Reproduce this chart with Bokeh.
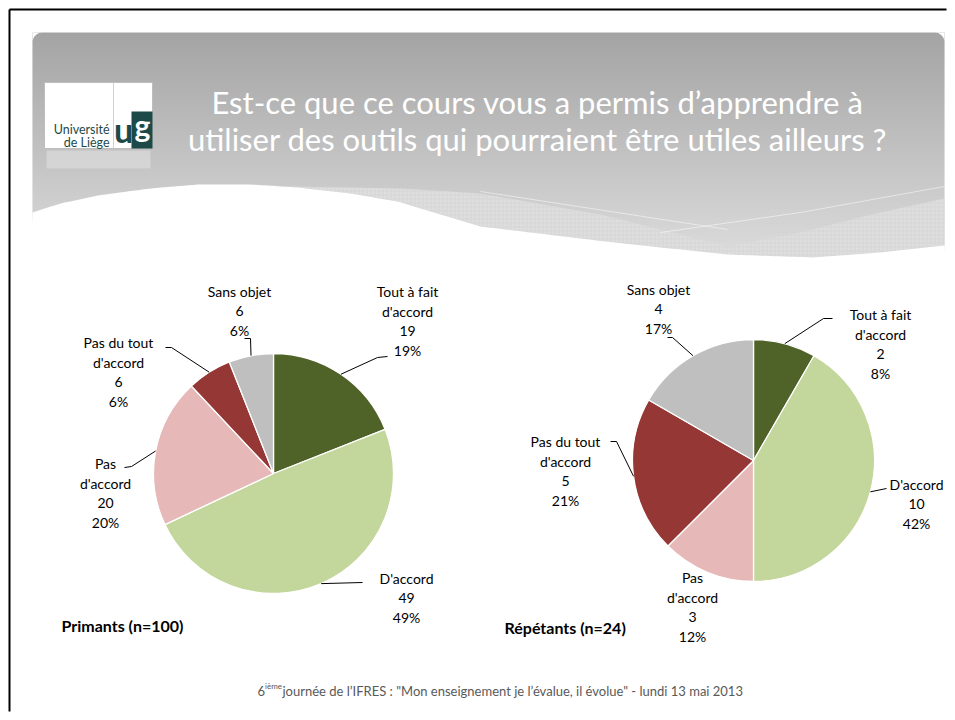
import numpy as np
from bokeh.plotting import figure
from bokeh.models import Range1d, ColumnDataSource
from bokeh.core.properties import value
from bokeh.embed import file_html
from bokeh.resources import INLINE

# ---------------- data ----------------
categories = ["Tout à fait d'accord", "D'accord", "Pas d'accord", "Pas du tout d'accord", "Sans objet"]
label_names = ["Tout à fait\nd'accord", "D'accord", "Pas\nd'accord", "Pas du tout\nd'accord", "Sans objet"]
primants_counts = [19, 49, 20, 6, 6]
primants_pcts = ["19%", "49%", "20%", "6%", "6%"]
repetants_counts = [2, 10, 3, 5, 4]
repetants_pcts = ["8%", "42%", "12%", "21%", "17%"]
slice_colors = ["#4F6228", "#C3D69B", "#E6B9B8", "#953735", "#BFBFBF"]

title_lines = ["Est-ce que ce cours vous a permis d\u2019apprendre à",
               "utiliser des outils qui pourraient être utiles ailleurs ?"]
primants_title = "Primants (n=100)"
repetants_title = "Répétants (n=24)"
footer_text = "journée de l\u2019IFRES : \"Mon enseignement je l\u2019évalue, il évolue\"  - lundi 13 mai 2013"

FONT = value("Lato")

# ---------------- canvas ----------------
W, H = 947, 712


def X(sx):
    return sx


def Y(sy):
    return H - sy


p = figure(width=W, height=H, x_range=Range1d(0, W), y_range=Range1d(0, H),
           output_backend="svg", toolbar_location=None,
           x_axis_type=None, y_axis_type=None, min_border=0,
           outline_line_color=None, background_fill_color="white",
           border_fill_color="white")
p.xgrid.visible = False
p.ygrid.visible = False

# ---------------- header (gradient band) ----------------
top_y, bot_y, step = 32, 262, 2
ys = np.arange(top_y, bot_y, step)
c0, c1 = np.array([164, 164, 164]), np.array([222, 222, 222])
cols = []
for yy in ys:
    t = (yy - top_y) / (bot_y - top_y)
    c = (c0 + (c1 - c0) * t).astype(int)
    cols.append("#%02x%02x%02x" % tuple(c))
p.quad(left=[X(32)] * len(ys), right=[X(944)] * len(ys),
       top=[Y(v) for v in ys], bottom=[Y(v + step + 0.6) for v in ys],
       fill_color=cols, line_color=None)


def smooth(pts, n=200):
    pts = np.array(pts, dtype=float)
    xs = np.linspace(pts[0, 0], pts[-1, 0], n)
    return xs, np.interp(xs, pts[:, 0], pts[:, 1])


white_curve = [(32, 212), (60, 203), (97, 195), (150, 188), (197, 184), (250, 184),
               (297, 187), (350, 193), (397, 201), (480, 226), (613, 242), (727, 254),
               (813, 257), (880, 252), (944, 245)]
gray_curve = [(32, 212), (60, 203), (97, 195), (150, 188), (197, 184), (250, 184),
              (290, 186), (400, 188), (480, 193), (600, 214), (727, 246), (800, 232),
              (880, 212), (944, 198)]
wx, wy = smooth(white_curve)
gx, gy = smooth(gray_curve)

# textured light band
band_x = list(gx) + list(wx[::-1])
band_y = list(gy) + list(wy[::-1])
p.patch([X(v) for v in band_x], [Y(v) for v in band_y], fill_color="#dedede",
        line_color=None, hatch_pattern="+", hatch_color="#d0d0d0", hatch_scale=4,
        hatch_weight=0.6)
# faint white streaks
p.line([X(v) for v in [480, 727]], [Y(v) for v in [191, 229]], line_color="white", line_alpha=0.5, line_width=1)
p.line([X(v) for v in [660, 800, 944]], [Y(v) for v in [232, 212, 186]], line_color="white", line_alpha=0.5, line_width=1)

# white wave
wave_x = list(wx) + [946, 30]
wave_y = list(wy) + [275, 275]
p.patch([X(v) for v in wave_x], [Y(v) for v in wave_y], fill_color="white", line_color=None)

# rounded top corners
rad = 10
for cx, a0, a1, corner in [(32 + rad, np.pi, 1.5 * np.pi, 32), (944 - rad, 1.5 * np.pi, 2 * np.pi, 944)]:
    th = np.linspace(a0, a1, 20)
    ax = cx + rad * np.cos(th)
    ay = (32 + rad) + rad * np.sin(th)
    px = [corner] + list(ax)
    py = [32] + list(ay)
    p.patch([X(v) for v in px], [Y(v) for v in py], fill_color="white", line_color=None)

# ---------------- logo ----------------
teal = "#1d4a48"
p.quad(left=[X(44)], right=[X(152)], top=[Y(82)], bottom=[Y(148)],
       fill_color="white", line_color="#bdbdbd", line_width=1)
p.line([X(113), X(113)], [Y(82), Y(148)], line_color="#d0d0d0", line_width=1)
p.quad(left=[X(131)], right=[X(152)], top=[Y(111)], bottom=[Y(148)],
       fill_color=teal, line_color=None)
p.text(x=[X(109), X(109)], y=[Y(129), Y(142)], text=["Université", "de Liège"],
       text_align="right", text_baseline="middle", text_font=FONT,
       text_font_size="12.5px", text_color=teal)
p.text(x=[X(123)], y=[Y(129)], text=["u"], text_align="center", text_baseline="middle",
       text_font=FONT, text_font_size="34px", text_font_style="bold", text_color=teal)
p.text(x=[X(142)], y=[Y(124)], text=["g"], text_align="center", text_baseline="middle",
       text_font=FONT, text_font_size="30px", text_font_style="bold", text_color="white")
p.quad(left=[X(46)], right=[X(150)], top=[Y(150)], bottom=[Y(168)],
       fill_color="#e6e6e6", fill_alpha=0.5, line_color=None)

# ---------------- title ----------------
p.text(x=[X(537), X(537)], y=[Y(101), Y(138)], text=title_lines,
       text_align="center", text_baseline="middle", text_font=FONT,
       text_font_size="31px", text_color="white")

# ---------------- frame lines (top / left) ----------------
p.line([X(9), X(9)], [Y(9), Y(711)], line_color="black", line_width=2)
p.line([X(9), X(946)], [Y(9), Y(9)], line_color="black", line_width=2)

# ---------------- pies ----------------
LINE_H = 19.6


def draw_pie(cx, cy, r, counts, pcts, label_pos, elbows):
    counts = np.array(counts, dtype=float)
    frac = counts / counts.sum()
    cum = np.concatenate([[0], np.cumsum(frac)])
    start = [np.pi / 2 - 2 * np.pi * cum[i + 1] for i in range(len(counts))]
    end = [np.pi / 2 - 2 * np.pi * cum[i] for i in range(len(counts))]
    src = ColumnDataSource(dict(start=start, end=end, color=slice_colors, cat=categories))
    p.wedge(x=X(cx), y=Y(cy), radius=r, start_angle="start", end_angle="end",
            fill_color="color", line_color="white", line_width=1.3, source=src)
    # leader lines
    lxs, lys = [], []
    for i in range(len(counts)):
        if elbows[i] is None:
            continue
        m = (cum[i] + cum[i + 1]) / 2
        th = 2 * np.pi * m
        ex, ey = cx + r * np.sin(th), cy - r * np.cos(th)
        pts = elbows[i] + [(ex, ey)]
        lxs.append([X(a) for a, b in pts])
        lys.append([Y(b) for a, b in pts])
    p.multi_line(xs=lxs, ys=lys, line_color="black", line_width=1)
    # labels
    tx, ty, tt = [], [], []
    for i in range(len(counts)):
        lines = label_names[i].split("\n") + ["%d" % counts[i], pcts[i]]
        lx, ly = label_pos[i]
        for j, s in enumerate(lines):
            tx.append(X(lx))
            ty.append(Y(ly + j * LINE_H))
            tt.append(s)
    p.text(x=tx, y=ty, text=tt, text_align="center", text_baseline="middle",
           text_font=FONT, text_font_size="14px", text_color="black")


draw_pie(273, 473, 120, primants_counts, primants_pcts,
         label_pos=[(407, 291), (406, 578), (105, 463), (118, 342), (239, 291)],
         elbows=[[(387, 356), (377, 357)], [(362, 582)], [(124, 467), (131, 466)],
                 [(165, 347), (171, 347)], [(244, 338), (250, 338)]])

draw_pie(753, 460, 121, repetants_counts, repetants_pcts,
         label_pos=[(880, 314), (916, 484), (692, 577), (565, 441), (658, 289)],
         elbows=[[(832, 318), (823, 318)], [(886, 488)], None,
                 [(610, 441), (616, 441)], [(667, 337), (672, 337)]])

p.text(x=[X(61), X(504)], y=[Y(625), Y(627)], text=[primants_title, repetants_title],
       text_align="left", text_baseline="middle", text_font=FONT,
       text_font_size="16px", text_font_style="bold", text_color="black")

# ---------------- footer ----------------
p.text(x=[X(257)], y=[Y(690)], text=["6"], text_align="left", text_baseline="middle",
       text_font=FONT, text_font_size="13px", text_color="#595959")
p.text(x=[X(264.5)], y=[Y(685)], text=["ième"], text_align="left", text_baseline="middle",
       text_font=FONT, text_font_size="8px", text_color="#595959")
p.text(x=[X(282)], y=[Y(690)], text=[footer_text], text_align="left", text_baseline="middle",
       text_font=FONT, text_font_size="13px", text_color="#595959")

open("out.html", "w").write(file_html(p, INLINE))
